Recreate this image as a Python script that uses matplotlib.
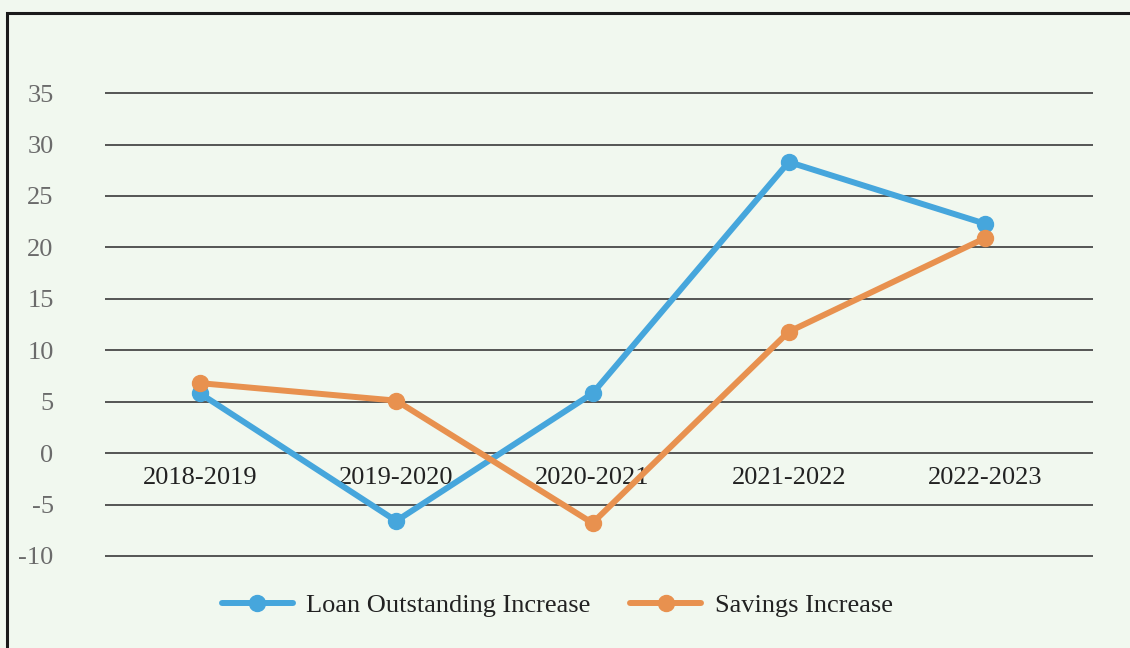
import matplotlib.pyplot as plt
from matplotlib.patches import Rectangle

# values
periods = ["2018-2019", "2019-2020", "2020-2021", "2021-2022", "2022-2023"]
loan_increase = [5.8, -6.6, 5.8, 28.3, 22.3]
savings_increase = [6.8, 5.1, -6.8, 11.8, 20.9]
y_ticks = [-10, -5, 0, 5, 10, 15, 20, 25, 30, 35]

plt.rcParams['font.family'] = ['Liberation Serif', 'DejaVu Serif']

bg = '#f1f8ef'
blue = '#46a6dc'
orange = '#e8914f'

fig = plt.figure(figsize=(11.3, 6.48), dpi=100, facecolor=bg)
ax = fig.add_axes([105 / 1130, 0.1341, (1093 - 105) / 1130, 0.8643 - 0.1341])
ax.set_facecolor(bg)

# outer frame (only left and top visible in the crop)
fig.patches.append(Rectangle((7 / 1130, -0.2), 1.5, 1.2 - 13 / 648,
                             transform=fig.transFigure, fill=False,
                             edgecolor='#1a1a1a', linewidth=2.2))

for yv in y_ticks:
    ax.axhline(yv, color='#3a3a3a', linewidth=1.2, zorder=1)

x = list(range(len(periods)))
ax.plot(x, loan_increase, color=blue, linewidth=4.3, marker='o', markersize=11.5,
        solid_capstyle='round', label='Loan Outstanding Increase', zorder=3)
ax.plot(x, savings_increase, color=orange, linewidth=4.3, marker='o', markersize=11.5,
        solid_capstyle='round', label='Savings Increase', zorder=3)

ax.set_xlim(-0.484, 4.55)
ax.set_ylim(-10.5, 35.5)

for s in ax.spines.values():
    s.set_visible(False)

ax.set_yticks(y_ticks)
ax.set_yticklabels([str(v) for v in y_ticks], fontsize=19, color='#6b6b6b')
ax.tick_params(axis='y', length=0, pad=37)

ax.set_xticks([])
for xi, lab in zip(x, periods):
    ax.text(xi, -1.4, lab, ha='center', va='top', fontsize=19, color='#222222', zorder=2)

leg = fig.legend(loc='center', bbox_to_anchor=(0.493, 1 - 605 / 648), ncol=2,
                 frameon=False, fontsize=19, handlelength=2.7, handletextpad=0.5,
                 columnspacing=1.5)
for t in leg.get_texts():
    t.set_color('#222222')

fig.savefig('out.png', dpi=100, facecolor=bg)
